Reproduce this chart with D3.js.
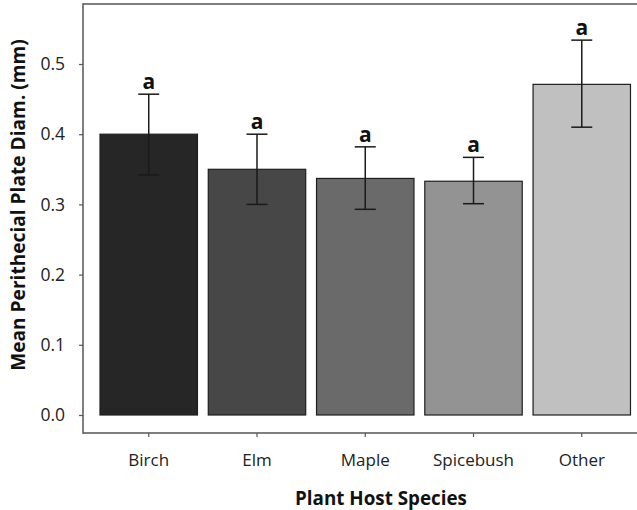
<!DOCTYPE html>
<html>
<head>
<meta charset="utf-8">
<script src="https://cdn.jsdelivr.net/npm/d3@7"></script>
<style>
  html, body { margin: 0; padding: 0; background: #fff; }
  svg { display: block; }
  text { font-family: "Open Sans", Lato, sans-serif; }
</style>
</head>
<body>
<script>
const categories = ["Birch", "Elm", "Maple", "Spicebush", "Other"];
const means = [0.400, 0.350, 0.337, 0.333, 0.471];
const errUpper = [0.457, 0.400, 0.382, 0.367, 0.534];
const errLower = [0.342, 0.300, 0.293, 0.301, 0.410];
const groupLetters = ["a", "a", "a", "a", "a"];
const barColors = ["#262626", "#474747", "#6a6a6a", "#939393", "#c0c0c0"];
const yTicks = [0.0, 0.1, 0.2, 0.3, 0.4, 0.5];
const yTitle = "Mean Perithecial Plate Diam. (mm)";
const xTitle = "Plant Host Species";

const W = 637, H = 510;
const FONT = "'Open Sans', Lato, sans-serif";
const svg = d3.select("body").append("svg").attr("width", W).attr("height", H);

const axisX = 83, topY = 4, bottomY = 433;
const y = d3.scaleLinear().domain([0, 0.5]).range([415, 64]);
const x = d3.scaleBand().domain(categories).range([94.6, 635.9])
  .paddingInner(0.1).paddingOuter(0.05);

const frameColor = "#555";

// frame: top line and bottom axis line
svg.append("line").attr("x1", axisX).attr("x2", W).attr("y1", topY).attr("y2", topY)
  .attr("stroke", frameColor).attr("stroke-width", 1.5);
svg.append("line").attr("x1", axisX).attr("x2", W).attr("y1", bottomY).attr("y2", bottomY)
  .attr("stroke", frameColor).attr("stroke-width", 1.5);

// y axis
const yAxis = d3.axisLeft(y).tickValues(yTicks).tickFormat(d3.format(".1f")).tickSize(4).tickPadding(14);
const gy = svg.append("g").attr("transform", `translate(${axisX},0)`).call(yAxis);
gy.attr("font-size", null).attr("font-family", null);
gy.select(".domain").remove();
gy.selectAll(".tick line").attr("stroke", frameColor).attr("stroke-width", 1.2);
gy.selectAll(".tick text").style("font-size", "17.5px").attr("fill", "#222").style("font-family", FONT);
svg.append("line").attr("x1", axisX).attr("x2", axisX).attr("y1", topY - 0.75).attr("y2", bottomY + 0.75)
  .attr("stroke", frameColor).attr("stroke-width", 1.5);

// x axis
const xAxis = d3.axisBottom(x).tickSize(4).tickPadding(17);
const gx = svg.append("g").attr("transform", `translate(0,${bottomY})`).call(xAxis);
gx.attr("font-size", null).attr("font-family", null);
gx.select(".domain").remove();
gx.selectAll(".tick line").attr("stroke", frameColor).attr("stroke-width", 1.2);
gx.selectAll(".tick text").style("font-size", "17px").attr("fill", "#222").attr("dy", null)
  .attr("y", 466 - bottomY).style("font-family", FONT);

// bars
const data = categories.map((c, i) => ({c, m: means[i], hi: errUpper[i], lo: errLower[i], l: groupLetters[i], col: barColors[i]}));
svg.append("g").selectAll("rect").data(data).join("rect")
  .attr("x", d => x(d.c)).attr("width", x.bandwidth())
  .attr("y", d => y(d.m)).attr("height", d => y(0) - y(d.m))
  .attr("fill", d => d.col).attr("stroke", "#1e1e1e").attr("stroke-width", 1.2);

// error bars
const eb = svg.append("g").attr("stroke", "#1a1a1a").attr("stroke-width", 1.5);
const cx = d => x(d.c) + x.bandwidth() / 2;
const capHalf = 10.5;
data.forEach(d => {
  eb.append("line").attr("x1", cx(d)).attr("x2", cx(d)).attr("y1", y(d.hi)).attr("y2", y(d.lo));
  eb.append("line").attr("x1", cx(d) - capHalf).attr("x2", cx(d) + capHalf).attr("y1", y(d.hi)).attr("y2", y(d.hi));
  eb.append("line").attr("x1", cx(d) - capHalf).attr("x2", cx(d) + capHalf).attr("y1", y(d.lo)).attr("y2", y(d.lo));
});

// letters
svg.append("g").selectAll("text").data(data).join("text")
  .attr("x", d => cx(d)).attr("y", d => y(d.hi) - 5)
  .attr("text-anchor", "middle").attr("font-size", 21).attr("font-weight", "bold")
  .attr("fill", "#111").style("font-family", FONT).text(d => d.l);

// titles, sized to span the reference lengths
function fitText(sel, target) {
  const len = sel.node().getComputedTextLength();
  const fs = parseFloat(sel.attr("font-size"));
  if (len > 0) sel.attr("font-size", fs * target / len);
}
const yt = svg.append("text").attr("transform", `translate(25,205) rotate(-90)`)
  .attr("text-anchor", "middle").attr("font-size", 18).attr("font-weight", "bold")
  .attr("fill", "#111").style("font-family", FONT).text(yTitle);
fitText(yt, 332);
const xt = svg.append("text").attr("x", 381).attr("y", 505)
  .attr("text-anchor", "middle").attr("font-size", 18).attr("font-weight", "bold")
  .attr("fill", "#111").style("font-family", FONT).text(xTitle);
fitText(xt, 172);
</script>
</body>
</html>
